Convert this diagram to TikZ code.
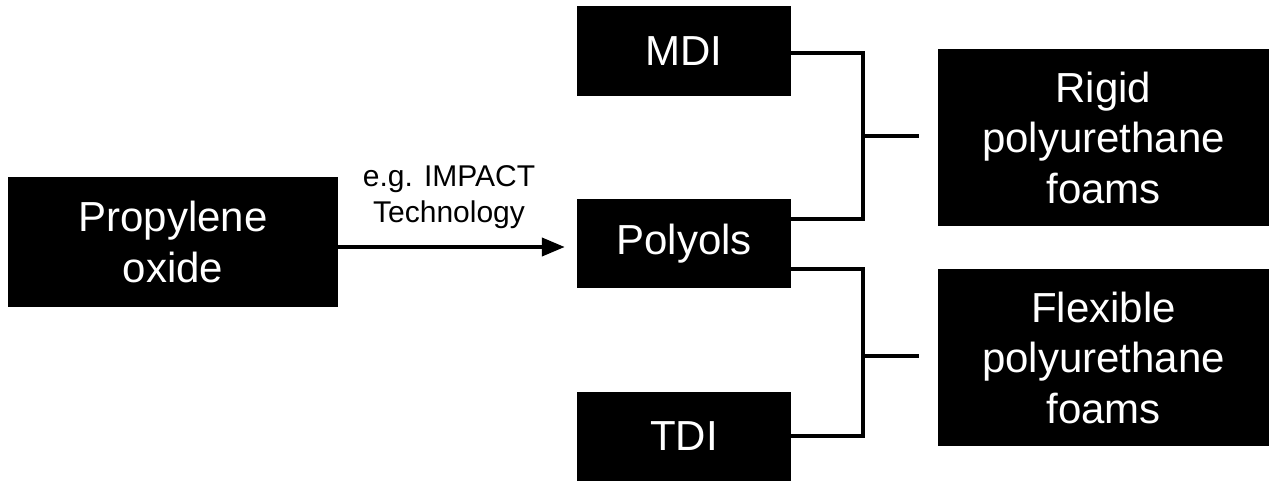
\documentclass[tikz,border=0pt]{standalone}
\usepackage{fontspec}
\setmainfont{Liberation Sans}
\usetikzlibrary{arrows.meta}
\begin{document}
\begin{tikzpicture}[x=1pt,y=-1pt,
  blackbox/.style={rectangle, fill=black, text=white, inner sep=0pt, align=center,
    font=\fontsize{42}{50.5}\selectfont},
  conn/.style={draw=black, line width=4pt},
  arr/.style={draw=black, line width=4pt, -{Triangle[length=23pt,width=18pt]}, shorten >=12pt},
  lbl/.style={inner sep=0pt, align=center, text=black, font=\fontsize{30}{36}\selectfont}]
\useasboundingbox (0,0) rectangle (1269,481);
\node[blackbox, minimum width=330pt, minimum height=130pt] (prop) at (173,242) {Propylene\\oxide};
\node[blackbox, minimum width=214pt, minimum height=90pt] (mdi) at (684,51) {MDI};
\node[blackbox, minimum width=214pt, minimum height=89pt] (poly) at (684,243.5) {Polyols};
\node[blackbox, minimum width=214pt, minimum height=89pt] (tdi) at (684,436.5) {TDI};
\node[blackbox, minimum width=331pt, minimum height=177pt] (rigid) at (1103.5,137.5) {Rigid\\polyurethane\\foams};
\node[blackbox, minimum width=331pt, minimum height=177pt] (flex) at (1103.5,357.5) {Flexible\\polyurethane\\foams};
\coordinate (a) at (0,247);
\draw[arr] (prop.east |- a) -- (poly.west |- a);
\node[lbl] (note) at (449,197.4) {e.g. IMPACT\\Technology};
\coordinate (j1) at (863,136);
\coordinate (j2) at (863,356);
\draw[conn] ([yshift=-2pt]mdi.east) -| (j1) |- ([yshift=24.5pt]poly.east);
\draw[conn, shorten >=19pt] (j1) -- (j1 -| rigid.west);
\draw[conn] ([yshift=-25.5pt]poly.east) -| (j2) |- ([yshift=0.5pt]tdi.east);
\draw[conn, shorten >=19pt] (j2) -- (j2 -| flex.west);
\end{tikzpicture}
\end{document}
